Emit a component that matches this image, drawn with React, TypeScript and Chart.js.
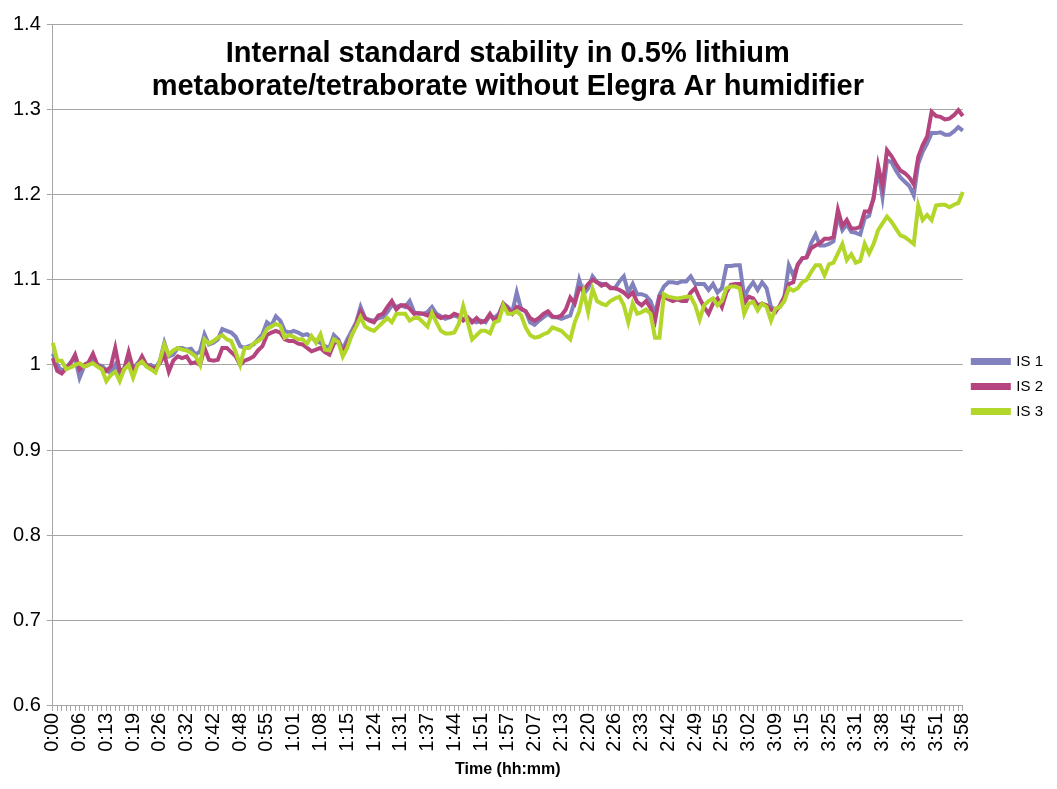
import { useEffect, useRef } from 'react';
import { Chart, registerables } from 'chart.js';

Chart.register(...registerables);

const FONT = "'Liberation Sans', Arial, sans-serif";

const TITLE_LINES = [
  'Internal standard stability in 0.5% lithium',
  'metaborate/tetraborate without Elegra Ar humidifier',
];
const X_TITLE = 'Time (hh:mm)';

// Time labels shown on the axis (one every 6 samples)
const TIME_LABELS = [
  '0:00', '0:06', '0:13', '0:19', '0:26', '0:32', '0:42', '0:48', '0:55',
  '1:01', '1:08', '1:15', '1:24', '1:31', '1:37', '1:44', '1:51', '1:57',
  '2:07', '2:13', '2:20', '2:26', '2:33', '2:42', '2:49', '2:55', '3:02',
  '3:09', '3:15', '3:25', '3:31', '3:38', '3:45', '3:51', '3:58',
];
const SAMPLES_PER_LABEL = 6;

const SERIES_NAMES = ['IS 1', 'IS 2', 'IS 3'];
const SERIES_COLORS = ['#8081bd', '#b5457f', '#b3d62a'];

const IS1 = [
  1.013, 1.0, 0.993, 0.997, 1.003, 1.008, 0.985, 0.998, 1.0, 1.006,
  1.0, 0.999, 0.994, 0.99, 1.0, 0.988, 0.997, 1.005, 0.995, 1.002,
  1.006, 0.999, 1.0, 0.996, 1.005, 1.026, 1.01, 1.012, 1.02, 1.02,
  1.018, 1.019, 1.012, 1.016, 1.036, 1.024, 1.026, 1.03, 1.042, 1.04,
  1.038, 1.033, 1.022, 1.02, 1.022, 1.024, 1.03, 1.036, 1.05, 1.046,
  1.057, 1.052, 1.04, 1.038, 1.04, 1.038, 1.035, 1.036, 1.032, 1.028,
  1.026, 1.022, 1.02, 1.035, 1.03, 1.018, 1.03, 1.04, 1.05, 1.068,
  1.055, 1.053, 1.052, 1.055, 1.056, 1.062, 1.07, 1.068, 1.07, 1.068,
  1.075, 1.062, 1.06, 1.06, 1.062, 1.068, 1.06, 1.057, 1.054, 1.056,
  1.058, 1.056, 1.054, 1.055, 1.052, 1.05, 1.052, 1.05, 1.058, 1.055,
  1.06, 1.072, 1.068, 1.062, 1.085, 1.065, 1.063, 1.05, 1.047, 1.052,
  1.056, 1.06, 1.056, 1.056, 1.054, 1.056, 1.058, 1.075, 1.1, 1.083,
  1.09, 1.104, 1.097, 1.095, 1.095, 1.091, 1.09, 1.098, 1.104, 1.085,
  1.095, 1.083, 1.083, 1.081, 1.075, 1.06, 1.082, 1.092, 1.097, 1.097,
  1.096, 1.098, 1.098, 1.104, 1.095, 1.095, 1.095, 1.088, 1.095, 1.085,
  1.09, 1.116, 1.116, 1.117, 1.117, 1.08, 1.09, 1.097, 1.088, 1.097,
  1.09, 1.068, 1.065, 1.068, 1.08, 1.117, 1.105, 1.117, 1.125, 1.127,
  1.143, 1.153, 1.14, 1.14, 1.142, 1.145, 1.175, 1.158, 1.165, 1.156,
  1.155, 1.153, 1.172, 1.175, 1.197, 1.229, 1.197, 1.24, 1.238, 1.228,
  1.22, 1.215, 1.21, 1.199, 1.236, 1.25, 1.26, 1.272, 1.272, 1.273,
  1.27, 1.27, 1.274, 1.279, 1.275,
];

const IS2 = [
  1.008, 0.993, 0.99, 0.996, 1.002, 1.012, 0.995, 1.0, 1.003, 1.013,
  1.0, 0.996, 0.993, 0.998, 1.02, 0.993, 0.995, 1.015, 0.995, 1.0,
  1.01, 1.0, 0.997, 0.996, 1.002, 1.012, 0.992, 1.005, 1.01, 1.008,
  1.01, 1.002, 1.003, 1.0, 1.02, 1.006, 1.005, 1.006, 1.02, 1.02,
  1.015, 1.01, 1.0, 1.005, 1.007, 1.01, 1.017, 1.022, 1.035, 1.038,
  1.04, 1.038, 1.03, 1.028, 1.028, 1.025, 1.024, 1.02, 1.016, 1.018,
  1.02, 1.015, 1.012, 1.025, 1.028, 1.014, 1.025, 1.035, 1.048, 1.063,
  1.055, 1.052, 1.05, 1.058, 1.06, 1.068, 1.075, 1.065, 1.07, 1.07,
  1.066, 1.06, 1.061, 1.06, 1.058, 1.062, 1.058, 1.055, 1.057, 1.056,
  1.06, 1.058, 1.052, 1.056, 1.05, 1.055, 1.05, 1.052, 1.06, 1.052,
  1.058, 1.072, 1.066, 1.06, 1.068, 1.066, 1.063, 1.055, 1.052, 1.055,
  1.06, 1.063, 1.057, 1.056, 1.058, 1.065, 1.079, 1.072, 1.09, 1.088,
  1.095, 1.1, 1.097, 1.093, 1.095, 1.09, 1.09, 1.088, 1.085, 1.08,
  1.085, 1.074, 1.07, 1.075, 1.067, 1.052, 1.08, 1.08, 1.077, 1.075,
  1.077, 1.075, 1.075, 1.085, 1.09, 1.078, 1.068, 1.06, 1.072, 1.078,
  1.068, 1.085, 1.094, 1.095, 1.095, 1.072, 1.08, 1.078, 1.07, 1.072,
  1.07, 1.065, 1.062, 1.07, 1.08, 1.095, 1.097, 1.118, 1.125, 1.126,
  1.137, 1.14, 1.143, 1.148, 1.148, 1.15, 1.182, 1.163, 1.17, 1.16,
  1.16, 1.162, 1.18, 1.18, 1.195, 1.234, 1.21, 1.252, 1.245, 1.236,
  1.228, 1.225, 1.22, 1.212, 1.244, 1.258, 1.268, 1.297, 1.292, 1.291,
  1.288, 1.289, 1.293, 1.299, 1.292,
];

const IS3 = [
  1.026, 1.005, 1.005, 0.995, 0.997, 1.0, 1.002, 0.998, 1.0, 1.002,
  0.998, 0.995, 0.981, 0.988, 0.992, 0.981, 0.995, 1.0, 0.985, 1.0,
  1.004, 0.998, 0.995, 0.991, 1.005, 1.024, 1.012, 1.017, 1.02, 1.018,
  1.017, 1.014, 1.01, 1.0, 1.03, 1.025, 1.028, 1.032, 1.035, 1.03,
  1.028, 1.015, 1.0, 1.02, 1.02, 1.025, 1.028, 1.032, 1.042, 1.045,
  1.048, 1.046, 1.032, 1.035, 1.033, 1.03, 1.03, 1.025, 1.034, 1.026,
  1.036, 1.018, 1.017, 1.03, 1.027, 1.01, 1.02, 1.035, 1.045, 1.056,
  1.045, 1.042, 1.04, 1.045, 1.05, 1.055, 1.05, 1.06, 1.06, 1.06,
  1.052, 1.055, 1.055, 1.05, 1.045, 1.061, 1.05, 1.04, 1.037, 1.037,
  1.038, 1.048, 1.069, 1.05, 1.03, 1.035, 1.04, 1.04, 1.037, 1.05,
  1.052, 1.07, 1.06, 1.06, 1.063, 1.058, 1.044, 1.035, 1.032, 1.033,
  1.036, 1.038, 1.044, 1.042, 1.04, 1.035, 1.03, 1.05, 1.063, 1.086,
  1.062, 1.089, 1.075, 1.072, 1.07, 1.075, 1.078, 1.08, 1.07, 1.05,
  1.072, 1.06, 1.062, 1.065, 1.06, 1.032, 1.032, 1.083, 1.08, 1.079,
  1.078, 1.079, 1.08, 1.08, 1.07, 1.053, 1.07, 1.075, 1.078, 1.07,
  1.075, 1.09, 1.092, 1.092, 1.09, 1.06, 1.072, 1.074, 1.064, 1.072,
  1.068, 1.052, 1.066, 1.068, 1.075, 1.09, 1.087, 1.09, 1.097, 1.1,
  1.109, 1.117, 1.117, 1.105, 1.118, 1.12, 1.131, 1.142, 1.123, 1.13,
  1.12, 1.122, 1.142, 1.131, 1.142, 1.158, 1.166, 1.174, 1.168, 1.16,
  1.152, 1.15, 1.146, 1.142, 1.187, 1.17, 1.176, 1.17, 1.187, 1.188,
  1.188, 1.185, 1.188, 1.19, 1.203,
];

const Y_MIN = 0.6;
const Y_MAX = 1.4;
const Y_STEP = 0.1;

function buildCategories(): string[] {
  const cats: string[] = [];
  TIME_LABELS.forEach((t, i) => {
    cats.push(t);
    if (i < TIME_LABELS.length - 1) {
      for (let k = 1; k < SAMPLES_PER_LABEL; k++) cats.push('');
    }
  });
  return cats;
}

export default function App() {
  const ref = useRef<HTMLCanvasElement | null>(null);

  useEffect(() => {
    document.body.style.margin = '0';
    const canvas = ref.current;
    if (!canvas) return;
    const categories = buildCategories();
    const values = [IS1, IS2, IS3];
    const GRID = '#a6a6a6';

    const chart = new Chart(canvas, {
      type: 'line',
      data: {
        labels: categories,
        datasets: SERIES_NAMES.map((name, i) => ({
          label: name,
          data: values[i],
          borderColor: SERIES_COLORS[i],
          backgroundColor: SERIES_COLORS[i],
          borderWidth: 4,
          pointRadius: 0,
          tension: 0,
          fill: false,
          order: SERIES_NAMES.length - i,
        })),
      },
      options: {
        animation: false,
        responsive: false,
        layout: { padding: { left: 7, right: 4, top: 24, bottom: 10 } },
        plugins: {
          title: {
            display: true,
            fullSize: false,
            text: TITLE_LINES,
            color: '#000',
            font: { family: FONT, size: 29, weight: 'bold', lineHeight: 1.14 },
            padding: { top: 13, bottom: -79.12 },
          },
          legend: {
            position: 'right',
            fullSize: false,
            title: {
              display: true,
              text: ' ',
              font: { family: FONT, size: 10 },
              padding: { top: 31, bottom: 0 },
            },
            labels: {
              boxWidth: 36,
              boxHeight: 3,
              color: '#000',
              font: { family: FONT, size: 15 },
              padding: 10,
              sort: (a: any, b: any) => a.datasetIndex - b.datasetIndex,
            },
          },
          tooltip: { enabled: false },
        },
        scales: {
          x: {
            type: 'category',
            offset: false,
            grid: {
              display: true,
              drawOnChartArea: false,
              drawTicks: true,
              tickLength: 5,
              color: GRID,
            },
            border: { display: true, color: GRID },
            ticks: {
              autoSkip: false,
              minRotation: 90,
              maxRotation: 90,
              padding: 2,
              color: '#000',
              font: { family: FONT, size: 20 },
            },
            title: {
              display: true,
              text: X_TITLE,
              color: '#000',
              font: { family: FONT, size: 16, weight: 'bold' },
              padding: { top: 6, bottom: 0 },
            },
          },
          y: {
            min: Y_MIN,
            max: Y_MAX,
            grid: { color: GRID, tickLength: 6 },
            border: { color: GRID },
            ticks: {
              stepSize: Y_STEP,
              padding: 6,
              color: '#000',
              font: { family: FONT, size: 20 },
              callback: (v: any) => String(Number(Number(v).toFixed(1))),
            },
          },
        },
      },
    });
    return () => chart.destroy();
  }, []);

  return (
    <div style={{ width: 1057, height: 789 }}>
      <canvas ref={ref} width={1057} height={789} />
    </div>
  );
}
